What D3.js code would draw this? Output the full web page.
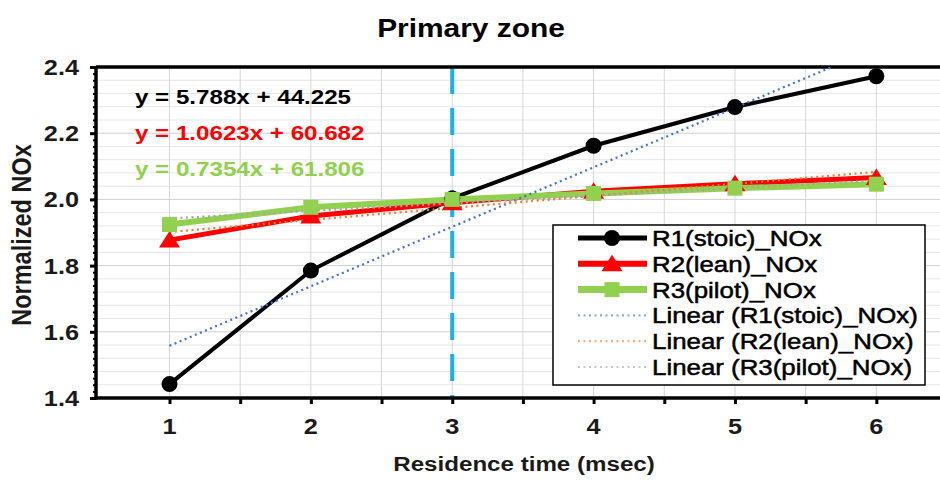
<!DOCTYPE html>
<html>
<head>
<meta charset="utf-8">
<script src="https://cdn.jsdelivr.net/npm/d3@7"></script>
<style>
  html, body { margin: 0; padding: 0; background: #fff; }
  text { font-family: "Liberation Sans", Arial, sans-serif; }
</style>
</head>
<body>
<svg id="chart" width="940" height="481"></svg>
<script>
// data
const times = [1, 2, 3, 4, 5, 6]
const r1Stoic = [1.442, 1.785, 2.003, 2.162, 2.279, 2.372]
const r2Lean = [1.877, 1.950, 1.990, 2.025, 2.047, 2.066]
const r3Pilot = [1.924, 1.976, 2.000, 2.018, 2.034, 2.046]
const seriesNames = ["R1(stoic)_NOx", "R2(lean)_NOx", "R3(pilot)_NOx"]
const equations = ["y = 5.788x + 44.225", "y = 1.0623x + 60.682", "y = 0.7354x + 61.806"]
const yTicks = [1.4, 1.6, 1.8, 2.0, 2.2, 2.4]
const xTicks = [1, 2, 3, 4, 5, 6]
const markerTime = 3

let svg = d3.select("#chart")
let margin = { left: 96, top: 67, bottom: 398, right: 947 }
const stretch = 1.15

// 比例尺
let xScale = d3.scaleLinear().domain([0.48, 6.5]).range([margin.left, margin.right])
let yScale = d3.scaleLinear().domain([1.4, 2.4]).range([margin.bottom, margin.top])

let series = [
    { name: seriesNames[0], values: r1Stoic, color: "#000000", width: 4, marker: "circle", trend: "#4472c4" },
    { name: seriesNames[1], values: r2Lean, color: "#ff0000", width: 5, marker: "triangle", trend: "#ed7d31" },
    { name: seriesNames[2], values: r3Pilot, color: "#92d050", width: 6, marker: "square", trend: "#a5a5a5" }
]

// clip
svg.append("clipPath").attr("id", "plotClip")
    .append("rect")
    .attr("x", margin.left).attr("y", margin.top)
    .attr("width", margin.right - margin.left).attr("height", margin.bottom - margin.top)

// 网格线
let grid = svg.append("g")
d3.range(1.44, 2.4, 0.04).forEach(v => {
    grid.append("line")
        .attr("x1", margin.left).attr("x2", margin.right)
        .attr("y1", yScale(v)).attr("y2", yScale(v))
        .attr("stroke", Math.abs(v * 5 - Math.round(v * 5)) < 0.001 ? "#cfcfcf" : "#e6e6e6")
        .attr("stroke-width", 1)
})
d3.range(1, 6.51, 0.5).forEach(v => {
    grid.append("line")
        .attr("x1", xScale(v)).attr("x2", xScale(v))
        .attr("y1", margin.top).attr("y2", margin.bottom)
        .attr("stroke", "#d6d6d6")
        .attr("stroke-width", 1)
})

// 虚线 at 3 msec
svg.append("line")
    .attr("x1", xScale(markerTime)).attr("x2", xScale(markerTime))
    .attr("y1", margin.top).attr("y2", margin.bottom)
    .attr("stroke", "#1ab0e8")
    .attr("stroke-width", 4)
    .attr("stroke-dasharray", "27,14")

// 坐标轴
let xAxis = svg.append("g")
    .attr("transform", "translate(0," + margin.bottom + ")")
    .call(d3.axisBottom(xScale).tickValues(d3.range(1, 6.51, 0.5)).tickSize(6).tickFormat(""))
xAxis.select(".domain").remove()
xAxis.selectAll("line").attr("stroke", "#000").attr("stroke-width", 3)

let yMinor = svg.append("g")
    .attr("transform", "translate(" + margin.left + ",0)")
    .call(d3.axisLeft(yScale).tickValues(d3.range(1.4, 2.401, 0.02)).tickSize(3).tickFormat(""))
yMinor.select(".domain").remove()
yMinor.selectAll("line").attr("stroke", "#000").attr("stroke-width", 2)

let yAxis = svg.append("g")
    .attr("transform", "translate(" + margin.left + ",0)")
    .call(d3.axisLeft(yScale).tickValues(yTicks).tickSize(6).tickFormat(""))
yAxis.select(".domain").remove()
yAxis.selectAll("line").attr("stroke", "#000").attr("stroke-width", 3)

// axis lines
svg.append("line").attr("x1", margin.left).attr("x2", 940)
    .attr("y1", margin.bottom).attr("y2", margin.bottom)
    .attr("stroke", "#000").attr("stroke-width", 3.5)
svg.append("line").attr("x1", margin.left).attr("x2", 940)
    .attr("y1", margin.top).attr("y2", margin.top)
    .attr("stroke", "#000").attr("stroke-width", 3.5)
svg.append("line").attr("x1", margin.left).attr("x2", margin.left)
    .attr("y1", margin.top).attr("y2", margin.bottom + 1.5)
    .attr("stroke", "#000").attr("stroke-width", 3.5)

// tick labels
yTicks.forEach(v => {
    svg.append("text")
        .attr("transform", "translate(79," + (yScale(v) + 8) + ") scale(" + stretch + ",1)")
        .attr("text-anchor", "end")
        .attr("font-size", 22).attr("font-weight", "bold")
        .attr("fill", "#1a1a1a")
        .text(d3.format(".1f")(v))
})
xTicks.forEach(v => {
    svg.append("text")
        .attr("transform", "translate(" + xScale(v) + ",434) scale(" + stretch + ",1)")
        .attr("text-anchor", "middle")
        .attr("font-size", 22).attr("font-weight", "bold")
        .attr("fill", "#1a1a1a")
        .text(v)
})

// 标题
svg.append("text")
    .attr("transform", "translate(471,37) scale(" + stretch + ",1)")
    .attr("text-anchor", "middle")
    .attr("font-size", 26).attr("font-weight", "bold")
    .text("Primary zone")
svg.append("text")
    .attr("transform", "translate(524,471) scale(" + stretch + ",1)")
    .attr("text-anchor", "middle")
    .attr("font-size", 21).attr("font-weight", "bold")
    .attr("fill", "#1a1a1a")
    .text("Residence time (msec)")
svg.append("text")
    .attr("transform", "translate(31,235) rotate(-90) scale(1," + stretch + ")")
    .attr("text-anchor", "middle")
    .attr("font-size", 23.5).attr("font-weight", "bold")
    .attr("fill", "#1a1a1a")
    .text("Normalized NOx")

// markers
function drawMarker(g, type, cx, cy, color) {
    if (type === "circle") {
        g.append("circle").attr("cx", cx).attr("cy", cy).attr("r", 8).attr("fill", color)
    } else if (type === "triangle") {
        g.append("path")
            .attr("d", "M" + cx + "," + (cy - 9) + "L" + (cx + 10.5) + "," + (cy + 7.5) + "L" + (cx - 10.5) + "," + (cy + 7.5) + "Z")
            .attr("fill", color)
    } else {
        g.append("rect").attr("x", cx - 7.5).attr("y", cy - 7.5).attr("width", 15).attr("height", 15).attr("fill", color)
    }
}

// 线生成器
let lineGenerator = d3.line()
    .x(d => xScale(d[0]))
    .y(d => yScale(d[1]))

let plot = svg.append("g").attr("clip-path", "url(#plotClip)")
series.forEach(s => {
    let pts = times.map((t, i) => [t, s.values[i]])
    plot.append("path")
        .attr("d", lineGenerator(pts))
        .attr("fill", "none")
        .attr("stroke", s.color)
        .attr("stroke-width", s.width)
    pts.forEach(p => drawMarker(svg, s.marker, xScale(p[0]), yScale(p[1]), s.color))
})

// linear trendlines (least squares of each series)
series.forEach(s => {
    let mx = d3.mean(times), my = d3.mean(s.values)
    let slope = d3.sum(times, (t, i) => (t - mx) * (s.values[i] - my)) / d3.sum(times, t => (t - mx) * (t - mx))
    let b = my - slope * mx
    let ends = [times[0], times[times.length - 1]].map(t => [t, slope * t + b])
    plot.append("path")
        .attr("d", lineGenerator(ends))
        .attr("fill", "none")
        .attr("stroke", s.trend)
        .attr("stroke-width", 2.2)
        .attr("stroke-dasharray", "2,3.5")
})

// equations
equations.forEach((eq, i) => {
    svg.append("text")
        .attr("transform", "translate(135," + (104 + i * 36) + ") scale(" + stretch + ",1)")
        .attr("font-size", 21).attr("font-weight", "bold")
        .attr("fill", series[i].color)
        .text(eq)
})

// 图例
let legend = svg.append("g")
legend.append("rect")
    .attr("x", 553).attr("y", 225).attr("width", 372).attr("height", 160)
    .attr("fill", "#fff").attr("stroke", "#000").attr("stroke-width", 1.5)
let legendItems = series.map(s => ({ label: s.name, color: s.color, width: s.width + 1, marker: s.marker, dash: null }))
    .concat(series.map(s => ({ label: "Linear (" + s.name + ")", color: s.trend, width: 2.2, marker: null, dash: "2,3.5" })))
legendItems.forEach((d, i) => {
    let cy = 238 + i * 25.8
    legend.append("line")
        .attr("x1", 578).attr("x2", 647).attr("y1", cy).attr("y2", cy)
        .attr("stroke", d.color).attr("stroke-width", d.width)
        .attr("stroke-dasharray", d.dash)
        .attr("opacity", d.dash ? 0.6 : 1)
    if (d.marker) drawMarker(legend, d.marker, 612, cy, d.color)
    legend.append("text")
        .attr("transform", "translate(652," + (cy + 8) + ") scale(" + stretch + ",1)")
        .attr("font-size", 22.5)
        .attr("fill", "#000")
        .attr("stroke", "#000").attr("stroke-width", 0.5)
        .text(d.label)
})
</script>
</body>
</html>
